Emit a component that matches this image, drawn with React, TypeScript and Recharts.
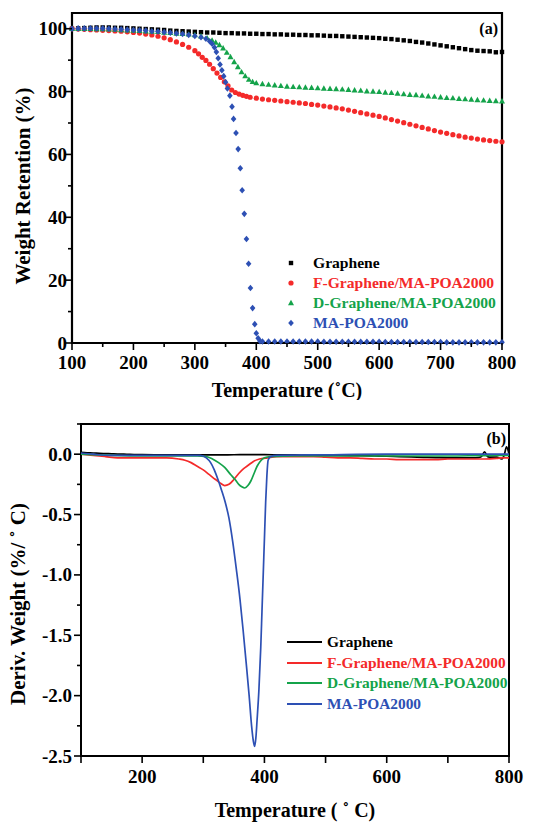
import React from 'react'
import { ScatterChart, Scatter, LineChart, Line, XAxis, YAxis, ReferenceArea, Legend } from 'recharts'

const FONT = '"Liberation Serif", "Times New Roman", serif'

// ---- (a) weight retention ----
const grapheneT = [100, 110, 120, 130, 140, 150, 160, 170, 180, 190, 200, 210, 220, 230, 240, 250, 260, 270, 280, 290, 300, 310, 320, 330, 340, 350, 360, 370, 380, 390, 400, 410, 420, 430, 440, 450, 460, 470, 480, 490, 500, 510, 520, 530, 540, 550, 560, 570, 580, 590, 600, 610, 620, 630, 640, 650, 660, 670, 680, 690, 700, 710, 720, 730, 740, 750, 760, 770, 780, 790, 800]
const grapheneW = [100.0, 100.1, 100.2, 100.3, 100.4, 100.4, 100.4, 100.3, 100.3, 100.2, 100.1, 100.0, 99.9, 99.8, 99.7, 99.6, 99.4, 99.3, 99.2, 99.1, 99.0, 98.9, 98.8, 98.8, 98.7, 98.6, 98.6, 98.5, 98.5, 98.4, 98.4, 98.3, 98.3, 98.2, 98.2, 98.1, 98.1, 98.0, 98.0, 97.9, 97.9, 97.8, 97.7, 97.7, 97.6, 97.5, 97.4, 97.3, 97.2, 97.1, 97.0, 96.8, 96.7, 96.5, 96.3, 96.1, 95.8, 95.6, 95.3, 95.0, 94.7, 94.4, 94.1, 93.8, 93.5, 93.2, 93.0, 92.9, 92.8, 92.5, 92.6]

const fGrapheneT = [100, 110, 120, 130, 140, 150, 160, 170, 180, 190, 200, 210, 220, 230, 240, 250, 260, 270, 280, 290, 300, 306, 312, 318, 324, 330, 336, 342, 348, 354, 360, 366, 372, 378, 384, 390, 400, 410, 420, 430, 440, 450, 460, 470, 480, 490, 500, 510, 520, 530, 540, 550, 560, 570, 580, 590, 600, 610, 620, 630, 640, 650, 660, 670, 680, 690, 700, 710, 720, 730, 740, 750, 760, 770, 780, 790, 800]
const fGrapheneW = [100.0, 99.9, 99.8, 99.7, 99.6, 99.5, 99.4, 99.3, 99.2, 99.0, 98.8, 98.6, 98.3, 98.0, 97.6, 97.1, 96.5, 95.8, 95.0, 94.1, 93.0, 92.0, 90.9, 89.9, 88.7, 87.3, 85.9, 84.5, 83.1, 81.8, 80.5, 79.7, 79.2, 78.8, 78.5, 78.2, 77.9, 77.6, 77.4, 77.2, 77.0, 76.8, 76.6, 76.4, 76.2, 75.9, 75.7, 75.4, 75.1, 74.8, 74.5, 74.1, 73.7, 73.3, 72.9, 72.5, 72.1, 71.6, 71.1, 70.6, 70.1, 69.6, 69.1, 68.6, 68.1, 67.6, 67.1, 66.7, 66.3, 65.9, 65.5, 65.2, 64.9, 64.6, 64.4, 64.2, 64.0]

const dGrapheneT = [100, 110, 120, 130, 140, 150, 160, 170, 180, 190, 200, 210, 220, 230, 240, 250, 260, 270, 280, 290, 300, 310, 320, 328, 334, 340, 346, 352, 358, 364, 370, 376, 382, 388, 394, 400, 410, 420, 430, 440, 450, 460, 470, 480, 490, 500, 510, 520, 530, 540, 550, 560, 570, 580, 590, 600, 610, 620, 630, 640, 650, 660, 670, 680, 690, 700, 710, 720, 730, 740, 750, 760, 770, 780, 790, 800]
const dGrapheneW = [100.0, 100.0, 100.0, 100.0, 99.9, 99.9, 99.8, 99.7, 99.6, 99.5, 99.4, 99.3, 99.2, 99.1, 99.0, 98.8, 98.7, 98.5, 98.4, 98.2, 98.0, 97.6, 97.0, 96.3, 95.6, 94.8, 93.8, 92.4, 91.0, 89.4, 87.8, 86.2, 84.9, 83.8, 83.1, 82.7, 82.4, 82.2, 82.0, 81.8, 81.6, 81.5, 81.4, 81.3, 81.2, 81.1, 81.0, 80.9, 80.8, 80.7, 80.6, 80.4, 80.3, 80.1, 80.0, 79.9, 79.7, 79.6, 79.4, 79.2, 79.0, 78.9, 78.7, 78.5, 78.4, 78.2, 78.0, 77.9, 77.7, 77.6, 77.5, 77.3, 77.2, 77.1, 77.0, 76.9]

const maPoaT = [100, 110, 120, 130, 140, 150, 160, 170, 180, 190, 200, 210, 220, 230, 240, 250, 260, 270, 280, 290, 300, 310, 318, 324, 328, 332, 335, 338, 341, 344, 347, 350, 353, 357, 360.5, 363, 367, 370.5, 374, 377, 380.5, 384, 387.5, 390.5, 394, 397.5, 400, 403, 406, 410, 420, 430, 440, 450, 460, 470, 480, 490, 500, 510, 520, 530, 540, 550, 560, 570, 580, 590, 600, 610, 620, 630, 640, 650, 660, 670, 680, 690, 700, 710, 720, 730, 740, 750, 760, 770, 780, 790, 800]
const maPoaW = [100.0, 100.1, 100.1, 100.1, 100.1, 100.1, 100.0, 99.9, 99.8, 99.7, 99.6, 99.5, 99.4, 99.2, 99.1, 98.9, 98.7, 98.5, 98.3, 98.0, 97.7, 97.3, 96.8, 96.0, 95.2, 94.0, 92.6, 90.6, 88.6, 86.8, 84.9, 83.0, 81.0, 78.7, 75.2, 71.3, 66.8, 61.7, 55.6, 48.6, 41.1, 33.1, 25.2, 17.5, 11.1, 6.0, 3.1, 1.5, 0.6, 0.5, 0.5, 0.5, 0.5, 0.5, 0.5, 0.5, 0.5, 0.5, 0.5, 0.4, 0.4, 0.4, 0.4, 0.4, 0.4, 0.4, 0.4, 0.4, 0.4, 0.3, 0.3, 0.3, 0.3, 0.3, 0.3, 0.3, 0.3, 0.3, 0.3, 0.2, 0.2, 0.2, 0.2, 0.2, 0.2, 0.2, 0.2, 0.2, 0.2]

const tgaXTicks = [100, 150, 200, 250, 300, 350, 400, 450, 500, 550, 600, 650, 700, 750, 800]
const tgaYTicks = [0, 10, 20, 30, 40, 50, 60, 70, 80, 90, 100]

// ---- (b) derivative weight ----
const grapheneDT = [100, 110, 120, 130, 140, 150, 160, 170, 180, 190, 200, 220, 240, 260, 280, 300, 320, 340, 360, 380, 400, 420, 440, 460, 480, 500, 520, 540, 560, 580, 600, 620, 640, 660, 680, 700, 720, 740, 750, 755, 760, 765, 770, 780, 788, 792, 796, 800]
const grapheneD = [0.015, 0.012, 0.01, 0.007, 0.005, 0.003, 0.001, 0, -0.002, -0.003, -0.004, -0.005, -0.005, -0.005, -0.005, -0.005, -0.005, -0.005, -0.004, -0.004, -0.004, -0.005, -0.006, -0.007, -0.008, -0.01, -0.011, -0.012, -0.013, -0.015, -0.017, -0.02, -0.023, -0.026, -0.028, -0.03, -0.03, -0.03, -0.028, -0.02, 0.02, -0.02, -0.025, -0.025, -0.04, -0.01, 0.06, 0.0]

const fGrapheneDT = [100, 120, 140, 160, 180, 200, 220, 240, 260, 270, 280, 290, 300, 310, 320, 328, 335, 342, 350, 358, 366, 374, 382, 392, 405, 420, 440, 460, 480, 500, 520, 540, 560, 580, 600, 620, 640, 660, 680, 700, 720, 740, 760, 780, 790, 800]
const fGrapheneD = [0.0, -0.01, -0.02, -0.03, -0.03, -0.03, -0.03, -0.03, -0.04, -0.05, -0.07, -0.1, -0.13, -0.17, -0.21, -0.24, -0.26, -0.25, -0.21, -0.16, -0.12, -0.09, -0.06, -0.04, -0.03, -0.02, -0.02, -0.02, -0.02, -0.025, -0.03, -0.03, -0.035, -0.04, -0.04, -0.045, -0.045, -0.045, -0.045, -0.04, -0.04, -0.04, -0.04, -0.035, -0.03, -0.03]

const dGrapheneDT = [100, 150, 200, 250, 290, 305, 315, 325, 335, 345, 352, 358, 363, 368, 373, 378, 383, 388, 393, 400, 410, 450, 500, 550, 600, 650, 700, 750, 780, 800]
const dGrapheneD = [0.0, -0.01, -0.015, -0.015, -0.015, -0.02, -0.04, -0.07, -0.11, -0.17, -0.21, -0.25, -0.27, -0.28, -0.26, -0.22, -0.16, -0.1, -0.06, -0.03, -0.02, -0.015, -0.015, -0.015, -0.015, -0.015, -0.015, -0.012, -0.01, -0.01]

const maPoaDT = [100, 120, 150, 200, 250, 295, 305, 312, 318, 324, 330, 336, 342, 348, 354, 360, 365, 370, 375, 379, 382, 384, 386, 388, 391, 394, 396, 398, 400, 402, 404, 406, 410, 420, 500, 600, 700, 800]
const maPoaD = [0.01, 0.0, -0.01, -0.01, -0.01, -0.01, -0.03, -0.07, -0.13, -0.21, -0.3, -0.4, -0.53, -0.72, -0.95, -1.2, -1.45, -1.72, -2.0, -2.25, -2.38, -2.42, -2.35, -2.2, -1.95, -1.6, -1.3, -1.0, -0.7, -0.4, -0.18, -0.05, -0.02, -0.01, -0.005, 0.0, 0.0, 0.0]

const dtgXTicks = [100, 200, 300, 400, 500, 600, 700, 800]
const dtgYTicks = [-2.5, -2.25, -2, -1.75, -1.5, -1.25, -1, -0.75, -0.5, -0.25, 0, 0.25]

const names = ['Graphene', 'F-Graphene/MA-POA2000', 'D-Graphene/MA-POA2000', 'MA-POA2000']
const colors = ['#000000', '#f42a2a', '#14a34a', '#2d50b4']
const shapes = ['square', 'circle', 'triangle', 'diamond']

const zip = (t: number[], v: number[], key: string) => t.map((x, i) => ({ t: x, [key]: v[i] }))

const tgaData = [
  zip(grapheneT, grapheneW, 'w'),
  zip(fGrapheneT, fGrapheneW, 'w'),
  zip(dGrapheneT, dGrapheneW, 'w'),
  zip(maPoaT, maPoaW, 'w'),
]
const dtgData = [
  zip(grapheneDT, grapheneD, 'd'),
  zip(fGrapheneDT, fGrapheneD, 'd'),
  zip(dGrapheneDT, dGrapheneD, 'd'),
  zip(maPoaDT, maPoaD, 'd'),
]

const Marker = ({ kind, cx, cy, color }: any) => {
  if (kind === 'square') return <rect x={cx - 2.2} y={cy - 2.2} width={4.4} height={4.4} fill={color} />
  if (kind === 'circle') return <circle cx={cx} cy={cy} r={2.6} fill={color} />
  if (kind === 'triangle')
    return <polygon points={`${cx},${cy - 3.2} ${cx - 3},${cy + 2.2} ${cx + 3},${cy + 2.2}`} fill={color} />
  return <polygon points={`${cx},${cy - 3.3} ${cx + 2.8},${cy} ${cx},${cy + 3.3} ${cx - 2.8},${cy}`} fill={color} />
}

const tickText = { fontFamily: FONT, fontWeight: 700, fontSize: 19, fill: '#000' }
const titleText = { fontFamily: FONT, fontWeight: 700, fill: '#000' }

const TgaXTick = ({ x, y, payload }: any) => {
  const major = payload.value % 100 === 0
  return (
    <g>
      <line x1={x} x2={x} y1={y} y2={y + (major ? 7 : 4)} stroke="#000" strokeWidth={1.6} />
      {major && <text x={x} y={y + 26} textAnchor="middle" {...tickText}>{payload.value}</text>}
    </g>
  )
}

const TgaYTick = ({ x, y, payload }: any) => {
  const major = payload.value % 20 === 0
  return (
    <g>
      <line x1={x - (major ? 7 : 4)} x2={x} y1={y} y2={y} stroke="#000" strokeWidth={1.6} />
      {major && <text x={x - 5} y={y + 6.5} textAnchor="end" {...tickText}>{payload.value}</text>}
    </g>
  )
}

const DtgXTick = ({ x, y, payload }: any) => {
  const major = payload.value % 200 === 0
  return (
    <g>
      <line x1={x} x2={x} y1={y} y2={y + 7} stroke="#000" strokeWidth={1.6} />
      {major && <text x={x} y={y + 27} textAnchor="middle" {...tickText}>{payload.value}</text>}
    </g>
  )
}

const DtgYTick = ({ x, y, payload }: any) => {
  const v = payload.value
  const major = Math.abs(v * 2 - Math.round(v * 2)) < 1e-6 && v <= 0
  return (
    <g>
      <line x1={x - (major ? 7 : 4)} x2={x} y1={y} y2={y} stroke="#000" strokeWidth={1.6} />
      {major && <text x={x - 9} y={y + 6.5} textAnchor="end" {...tickText}>{v.toFixed(1)}</text>}
    </g>
  )
}

const TgaLegend = () => (
  <div style={{ fontFamily: FONT, fontWeight: 700, fontSize: 15.6 }}>
    {names.map((n, i) => (
      <div key={n} style={{ display: 'flex', alignItems: 'center', height: 20, color: i === 0 ? '#000' : colors[i] }}>
        <svg width={22} height={20} style={{ marginRight: 7 }}>
          <Marker kind={shapes[i]} cx={7} cy={10} color={colors[i]} />
        </svg>
        {n}
      </div>
    ))}
  </div>
)

const DtgLegend = () => (
  <div style={{ fontFamily: FONT, fontWeight: 700, fontSize: 15.4 }}>
    {names.map((n, i) => (
      <div key={n} style={{ display: 'flex', alignItems: 'center', height: 20.5, color: i === 0 ? '#000' : colors[i] }}>
        <svg width={40} height={20}>
          <line x1={0} x2={35} y1={10} y2={10} stroke={colors[i]} strokeWidth={1.8} />
        </svg>
        {n}
      </div>
    ))}
  </div>
)

export default function App() {
  return (
    <div style={{ position: 'absolute', left: 0, top: 0, width: 545, height: 824, background: '#fff' }}>
      <div style={{ position: 'absolute', left: 0, top: 0 }}>
        <ScatterChart width={545} height={400} margin={{ top: 13, right: 43, bottom: 0, left: 0 }}>
          <XAxis
            type="number"
            dataKey="t"
            domain={[100, 800]}
            ticks={tgaXTicks}
            interval={0}
            tickSize={0}
            tickMargin={0}
            axisLine={false}
            height={57}
            tick={<TgaXTick />}
            label={() => (
              <text x={287} y={397} textAnchor="middle" fontSize={20} {...titleText}>
                Temperature (˚C)
              </text>
            )}
          />
          <YAxis
            type="number"
            dataKey="w"
            domain={[0, 105]}
            ticks={tgaYTicks}
            interval={0}
            tickSize={0}
            tickMargin={0}
            axisLine={false}
            width={72}
            tick={<TgaYTick />}
            label={() => (
              <text x={30} y={186} textAnchor="middle" fontSize={21} transform="rotate(-90 30 186)" {...titleText}>
                Weight Retention (%)
              </text>
            )}
          />
          <ReferenceArea
            x1={100}
            x2={800}
            y1={0}
            y2={105}
            fill="none"
            stroke="#000"
            strokeWidth={2.2}
            label={(p: any) => (
              <text x={p.viewBox.x + p.viewBox.width - 4} y={p.viewBox.y + 21} textAnchor="end" fontSize={16} {...titleText}>
                (a)
              </text>
            )}
          />
          {tgaData.map((d, i) => (
            <Scatter
              key={names[i]}
              name={names[i]}
              data={d}
              fill={colors[i]}
              isAnimationActive={false}
              shape={(p: any) => <Marker kind={shapes[i]} cx={p.cx} cy={p.cy} color={colors[i]} />}
            />
          ))}
          <Legend
            layout="vertical"
            align="center"
            verticalAlign="middle"
            content={() => <TgaLegend />}
            wrapperStyle={{ left: 284, top: 253, width: 240 }}
          />
        </ScatterChart>
      </div>
      <div style={{ position: 'absolute', left: 0, top: 400 }}>
        <LineChart width={545} height={424} margin={{ top: 24, right: 36, bottom: 0, left: 0 }}>
          <XAxis
            type="number"
            dataKey="t"
            domain={[100, 800]}
            ticks={dtgXTicks}
            interval={0}
            tickSize={0}
            tickMargin={0}
            axisLine={false}
            height={68}
            allowDuplicatedCategory={false}
            tick={<DtgXTick />}
            label={() => (
              <text x={295} y={417} textAnchor="middle" fontSize={20} {...titleText}>
                Temperature ( ˚ C)
              </text>
            )}
          />
          <YAxis
            type="number"
            domain={[-2.5, 0.25]}
            ticks={dtgYTicks}
            interval={0}
            tickSize={0}
            tickMargin={0}
            axisLine={false}
            width={81}
            tick={<DtgYTick />}
            label={() => (
              <text x={25} y={204} textAnchor="middle" fontSize={21} transform="rotate(-90 25 204)" {...titleText}>
                Deriv. Weight (%/ ˚ C)
              </text>
            )}
          />
          <ReferenceArea
            x1={100}
            x2={800}
            y1={-2.5}
            y2={0.25}
            fill="none"
            stroke="#000"
            strokeWidth={2}
            label={(p: any) => (
              <text x={p.viewBox.x + p.viewBox.width - 3} y={p.viewBox.y + 20} textAnchor="end" fontSize={16} {...titleText}>
                (b)
              </text>
            )}
          />
          {dtgData.map((d, i) => (
            <Line
              key={names[i]}
              name={names[i]}
              data={d}
              dataKey="d"
              type="monotone"
              stroke={colors[i]}
              strokeWidth={1.7}
              dot={false}
              activeDot={false}
              isAnimationActive={false}
            />
          ))}
          <Legend
            layout="vertical"
            align="center"
            verticalAlign="middle"
            content={() => <DtgLegend />}
            wrapperStyle={{ left: 287, top: 232, width: 250 }}
          />
        </LineChart>
      </div>
    </div>
  )
}
